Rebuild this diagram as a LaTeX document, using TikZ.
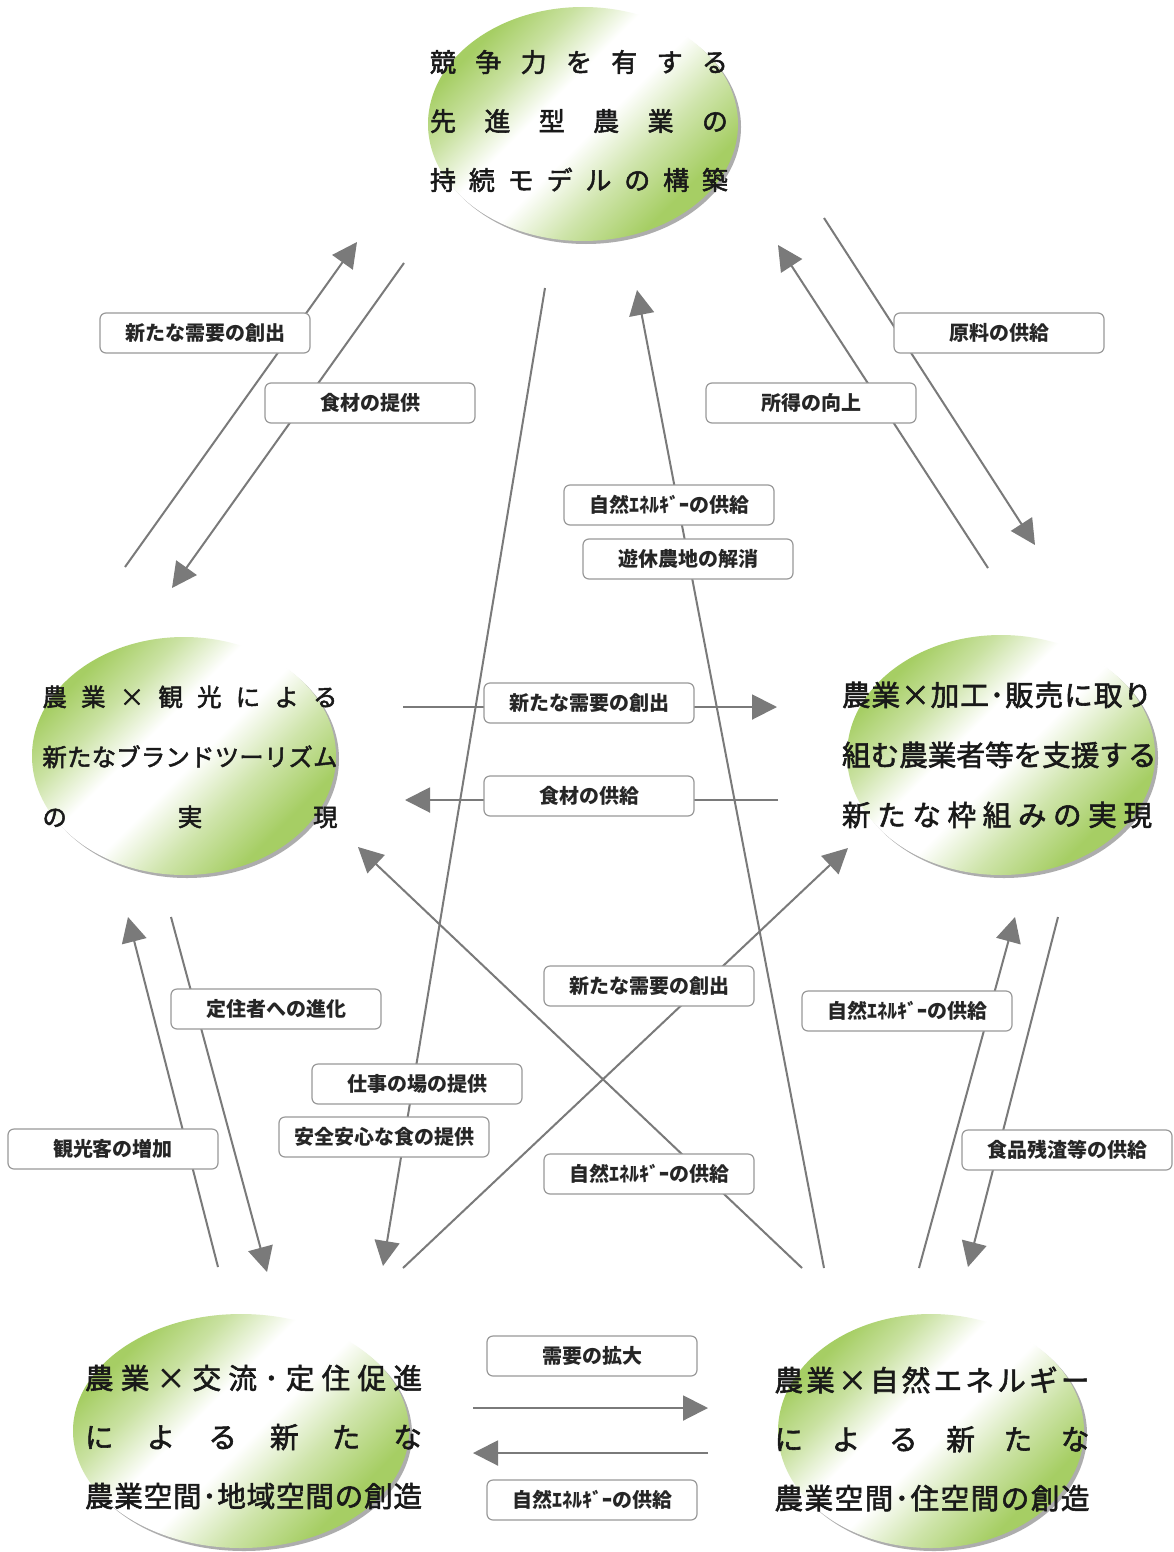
\documentclass[tikz,border=0pt]{standalone}
\usepackage{fontspec}
\newfontfamily\jp{Noto Sans CJK JP}
\newfontfamily\jpe{Noto Sans CJK JP}[FakeBold=2]
\usetikzlibrary{arrows.meta,shapes.geometric,shadows}
\definecolor{eg}{RGB}{166,206,100}
\definecolor{ln}{RGB}{122,122,122}
\pgfdeclareverticalshading{ellshade}{100bp}{color(0bp)=(eg); color(28bp)=(eg); color(38bp)=(eg!55); color(48bp)=(white); color(57bp)=(white); color(66bp)=(eg!60); color(74bp)=(eg); color(100bp)=(eg)}
\newcommand\spreadline[2]{\makebox[#1][s]{\spreadfirst#2\relax}}
\def\spreadfirst#1{#1\spreadnext}
\def\spreadnext#1{\ifx#1\relax\else\hfill#1\expandafter\spreadnext\fi}
\tikzset{
  ell/.style={ellipse, inner sep=0pt, shading=ellshade, shading angle=45,
    drop shadow={shadow xshift=1.5pt, shadow yshift=-1.5pt, fill=black!40, opacity=.8}},
  etext/.style={inner sep=0pt, align=center, text=black!90},
  lab/.style={draw=black!40, fill=white, rounded corners=3pt, minimum width=105pt,
    minimum height=20pt, inner sep=0pt, line width=0.6pt, text=black!85,
    font=\jp\bfseries\fontsize{10}{12}\selectfont},
  arr/.style={draw=ln, line width=1pt, -{Triangle[length=12.5pt,width=12.5pt,fill=ln]}}
}
\begin{document}
\begin{tikzpicture}[x=0.5pt,y=-0.5pt]
\fill[white] (0,0) rectangle (1173,1552);
\useasboundingbox (0,0) rectangle (1173,1552);

% ellipses
\node[ell, minimum width=155pt, minimum height=117pt] (eTop) at (583,124) {};
\node[ell, minimum width=152pt, minimum height=119pt] (eL) at (184,756) {};
\node[ell, minimum width=154pt, minimum height=120pt] (eR) at (1001,755) {};
\node[ell, minimum width=168pt, minimum height=117pt] (eBL) at (241,1431) {};
\node[ell, minimum width=153pt, minimum height=117pt] (eBR) at (931,1431) {};

\node[etext, font=\jpe\fontsize{13}{29.5}\selectfont] (tTop) at (579,121)
  {\spreadline{149pt}{競争力を有する}\\\spreadline{149pt}{先進型農業の}\\\spreadline{149pt}{持続モデルの構築}};
\node[etext, font=\jpe\fontsize{12.2}{30}\selectfont] (tL) at (190,757)
  {\spreadline{147.5pt}{農業×観光による}\\\spreadline{147.5pt}{新たなブランドツーリズム}\\\spreadline{147.5pt}{の実現}};
\node[etext, font=\jpe\fontsize{14.3}{30}\selectfont] (tR) at (997,755)
  {\spreadline{155pt}{農業×加工･販売に取り}\\\spreadline{155pt}{組む農業者等を支援する}\\\spreadline{155pt}{新たな枠組みの実現}};
\node[etext, font=\jpe\fontsize{14.3}{29.5}\selectfont] (tBL) at (253.5,1437)
  {\spreadline{168.5pt}{農業×交流･定住促進}\\\spreadline{168.5pt}{による新たな}\\\spreadline{168.5pt}{農業空間･地域空間の創造}};
\node[etext, font=\jpe\fontsize{14.3}{29.5}\selectfont] (tBR) at (932,1439)
  {\spreadline{157.5pt}{農業×自然エネルギー}\\\spreadline{157.5pt}{による新たな}\\\spreadline{157.5pt}{農業空間･住空間の創造}};

% connector end points
\coordinate (a1s) at (125,567);  \coordinate (a1e) at (357,242);
\coordinate (a2s) at (404,263);  \coordinate (a2e) at (172,588);
\coordinate (a3s) at (824,218);  \coordinate (a3e) at (1035,545);
\coordinate (a4s) at (988,568);  \coordinate (a4e) at (778,245);
\coordinate (a5s) at (545,288);  \coordinate (a5e) at (383,1266);
\coordinate (a6s) at (824,1268); \coordinate (a6e) at (637,290);
\coordinate (a7s) at (802,1268); \coordinate (a7e) at (358,847);
\coordinate (a8s) at (403,1268); \coordinate (a8e) at (848,848);
\coordinate (a9s) at (403,707);  \coordinate (a9e) at (777,707);
\coordinate (a10s) at (778,800); \coordinate (a10e) at (405,800);
\coordinate (a11s) at (218,1267);\coordinate (a11e) at (128,917);
\coordinate (a12s) at (171,917); \coordinate (a12e) at (267,1272);
\coordinate (a13s) at (919,1268);\coordinate (a13e) at (1015,917);
\coordinate (a14s) at (1058,917);\coordinate (a14e) at (968,1267);
\coordinate (a15s) at (473,1408);\coordinate (a15e) at (708,1408);
\coordinate (a16s) at (708,1453);\coordinate (a16e) at (473,1453);

\foreach \i in {1,...,16} {\draw[arr] (a\i s) -- (a\i e);}

% labels
\node[lab] (L1) at (205,333) {新たな需要の創出};
\node[lab] (L2) at (370,403) {食材の提供};
\node[lab] (L3) at (999,333) {原料の供給};
\node[lab] (L4) at (811,403) {所得の向上};
\node[lab] (L5) at (669,505) {自然ｴﾈﾙｷﾞｰの供給};
\node[lab] (L6) at (688,559) {遊休農地の解消};
\node[lab] (L7) at (589,703) {新たな需要の創出};
\node[lab] (L8) at (589,796) {食材の供給};
\node[lab] (L9) at (649,986) {新たな需要の創出};
\node[lab] (L10) at (276,1009) {定住者への進化};
\node[lab] (L11) at (907,1011) {自然ｴﾈﾙｷﾞｰの供給};
\node[lab] (L12) at (417,1084) {仕事の場の提供};
\node[lab] (L13) at (384,1137) {安全安心な食の提供};
\node[lab] (L14) at (113,1149) {観光客の増加};
\node[lab] (L15) at (649,1174) {自然ｴﾈﾙｷﾞｰの供給};
\node[lab] (L16) at (1067,1150) {食品残渣等の供給};
\node[lab] (L17) at (592,1356) {需要の拡大};
\node[lab] (L18) at (592,1500) {自然ｴﾈﾙｷﾞｰの供給};
\end{tikzpicture}
\end{document}
